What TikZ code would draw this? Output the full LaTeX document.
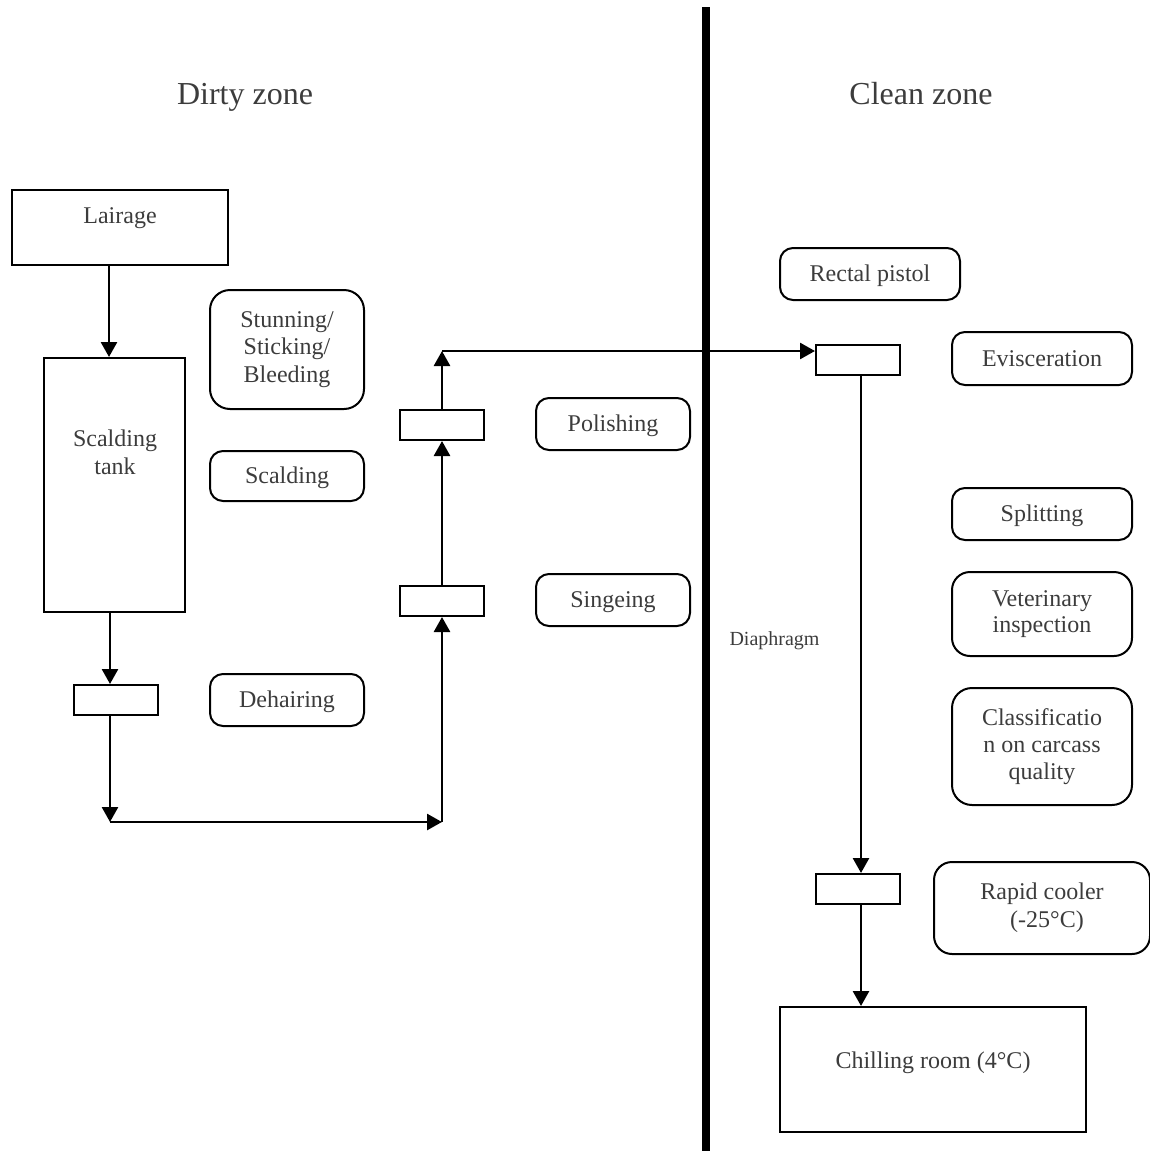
\documentclass[tikz,border=0pt]{standalone}
\usepackage{fontspec}
\setmainfont{Liberation Serif}
\usetikzlibrary{arrows.meta}
\definecolor{txt}{RGB}{60,60,60}
\begin{document}
\begin{tikzpicture}[x=1pt,y=-1pt,
  every node/.style={text=txt, font=\fontsize{24}{27.5}\selectfont},
  plain/.style={draw=black, line width=2pt, inner sep=0pt, rectangle},
  stage/.style={draw=black, line width=2pt, rounded corners=13pt, align=center, inner sep=0pt},
  oneline/.style={text height=20.5pt, text depth=5.2pt},
  slot/.style={draw=black, line width=2pt, minimum width=84pt, minimum height=30pt, inner sep=0pt},
  flow/.style={line width=2.7pt, -{Triangle[length=15pt,width=16pt]}},
  title/.style={font=\fontsize{32}{36}\selectfont, anchor=base}
]
\useasboundingbox (0,0) rectangle (1149,1151);

% zone titles
\node[title] (dirty) at (245,104) {Dirty zone};
\node[title] (clean) at (921,104) {Clean zone};

% diaphragm between the zones
\draw[line width=8pt] (706,7) -- (706,1151);
\node[anchor=base west, font=\fontsize{20}{24}\selectfont] (diaph) at (726,645) {Diaphragm};

% main rooms
\node[plain, minimum width=216pt, minimum height=75pt] (lair) at (120,227.5) {};
\node[anchor=base] (lairt) at (120,223) {Lairage};
\node[plain, minimum width=141pt, minimum height=254pt] (tank) at (114.5,485) {};
\node[anchor=base] (tankt) at (115,446) {Scalding};
\node[anchor=base] (tankt2) at (115,474) {tank};
\node[plain, minimum width=306pt, minimum height=125pt] (chill) at (933,1069.5) {};
\node[anchor=base] (chillt) at (933,1068) {Chilling room (4°C)};

% process stations
\node[slot] (s1) at (116,700) {};
\node[slot] (s2) at (442,601) {};
\node[slot] (s3) at (442,425) {};
\node[slot] (s4) at (858,359.5) {};
\node[slot] (s5) at (858,889) {};

% operation labels
\node[stage, minimum width=154pt, minimum height=119pt, rounded corners=20pt] (stun) at (287,349.5) {Stunning/\\Sticking/\\Bleeding};
\node[stage, oneline, minimum width=154pt, minimum height=50pt] (scald) at (287,476) {Scalding};
\node[stage, oneline, minimum width=154pt, minimum height=52pt] (dehair) at (287,700) {Dehairing};
\node[stage, oneline, minimum width=154pt, minimum height=52pt] (polish) at (613,424) {Polishing};
\node[stage, oneline, minimum width=154pt, minimum height=52pt] (singe) at (613,600) {Singeing};
\node[stage, oneline, minimum width=180pt, minimum height=52pt] (rectal) at (870,274) {Rectal pistol};
\node[stage, oneline, minimum width=180pt, minimum height=53pt] (evisc) at (1042,358.5) {Evisceration};
\node[stage, oneline, minimum width=180pt, minimum height=52pt] (split) at (1042,514) {Splitting};
\node[stage, minimum width=180pt, minimum height=84pt, rounded corners=18pt, font=\fontsize{24}{26}\selectfont] (vet) at (1042,614) {Veterinary\\inspection};
\node[stage, minimum width=180pt, minimum height=117pt, rounded corners=20pt, font=\fontsize{24}{26.7}\selectfont] (class) at (1042,746.5) {Classificatio\\n on carcass\\quality};
\node[stage, minimum width=216pt, minimum height=92pt, rounded corners=18pt, font=\fontsize{24}{28}\selectfont] (rapid) at (1042,908) {Rapid cooler\\\hspace*{10pt}(-25°C)};

% flow path
\coordinate (xa) at (110,0);
\coordinate (xb) at (861,0);
\coordinate (c1) at (110,822);
\coordinate (c2) at (442,822);
\coordinate (c3) at (442,351);

\draw[flow] ([xshift=-11pt]lair.south) -- ([xshift=-5.5pt]tank.north);
\draw[flow] (tank.south -| xa) -- (s1.north -| xa);
\draw[flow] (s1.south -| xa) -- (c1);
\draw[flow] (c1) -- (c2);
\draw[flow] (c2) -- (s2.south);
\draw[flow] (s2.north) -- (s3.south);
\draw[flow] (s3.north) -- (c3);
\draw[flow] (c3) -- (c3 -| s4.west);
\draw[flow] (s4.south -| xb) -- (s5.north -| xb);
\draw[flow] (s5.south -| xb) -- (chill.north -| xb);
\end{tikzpicture}
\end{document}
